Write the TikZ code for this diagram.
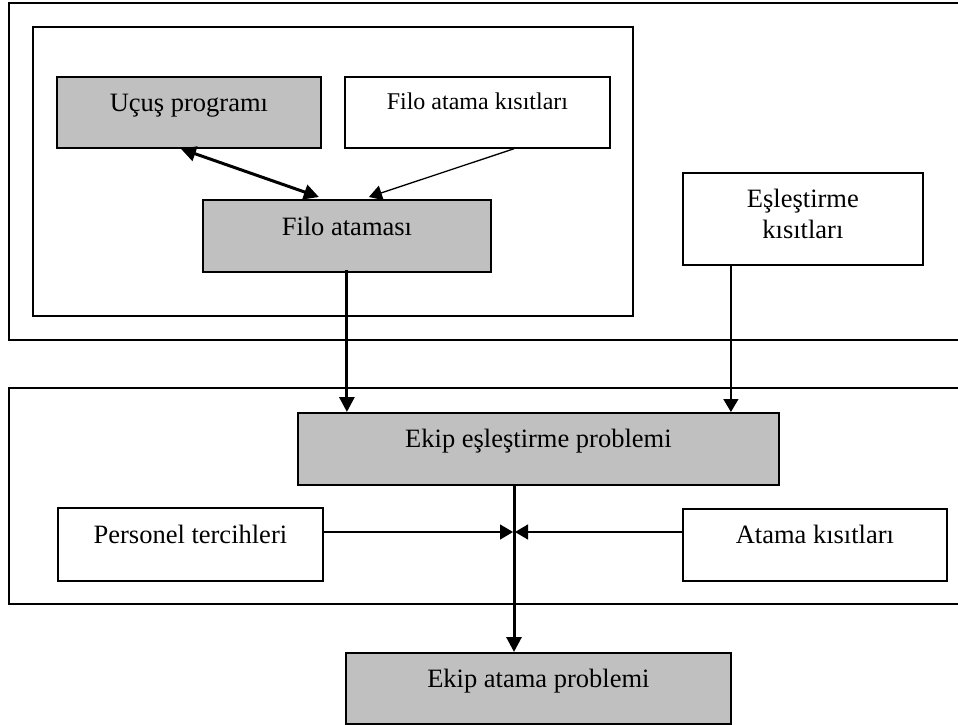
\documentclass[tikz,border=0pt]{standalone}
\usepackage{fontspec}
\setmainfont{Liberation Serif}
\usetikzlibrary{arrows.meta,calc}
\definecolor{boxgray}{HTML}{C0C0C0}
\tikzset{
  frame/.style={draw, line width=1.8pt},
  box/.style={draw, line width=1.8pt, rectangle, anchor=north west,
    inner xsep=0pt, inner ysep=0pt, align=center,
    font=\fontsize{26.5}{30.5}\selectfont},
  graybox/.style={box, fill=boxgray},
  whitebox/.style={box, fill=white},
  thickarrow/.style={line width=3pt, -{Triangle[length=15pt,width=15pt]}},
  thickline/.style={line width=3pt},
  thinarrow/.style={line width=1.3pt, -{Triangle[length=13pt,width=15pt]}},
  bothways/.style={line width=3pt, {Triangle[length=15pt,width=15pt]}-{Triangle[length=15pt,width=15pt]}}
}
\begin{document}
\begin{tikzpicture}[x=1pt, y=-1pt]
\useasboundingbox (0,0) rectangle (958,725);

% frames grouping the two stages
\draw[frame] (9,3) rectangle (964,340);
\draw[frame] (33,27) rectangle (633,316);
\draw[frame] (9,388) rectangle (964,604);

% stage one
\node[graybox, minimum width=264pt, text height=35pt, text depth=36pt] (ucus) at (56,76) {Uçuş programı};
\node[whitebox, minimum width=265pt, text height=33pt, text depth=38pt,
      font=\fontsize{24}{28}\selectfont] (fak) at (344,76) {Filo atama kısıtları};
\node[graybox, minimum width=288pt, text height=36pt, text depth=36pt] (filo) at (202,199) {Filo ataması};
\node[whitebox, minimum width=240pt, text height=35pt, text depth=57pt] (esk) at (682,172)
  {\begin{tabular}[t]{@{}c@{}}Eşleştirme\\kısıtları\end{tabular}};

% stage two
\node[graybox, minimum width=481pt, text height=35pt, text depth=37pt] (ekipes) at (297,412) {Ekip eşleştirme problemi};
\node[whitebox, minimum width=265pt, text height=36pt, text depth=37pt] (pers) at (57,507) {Personel tercihleri};
\node[whitebox, minimum width=264pt, text height=35pt, text depth=37pt] (atama) at (682,508) {Atama kısıtları};
\node[graybox, minimum width=385pt, text height=35pt, text depth=36pt] (ekipat) at (345,652) {Ekip atama problemi};

% meeting point of the side inputs
\coordinate (junc) at (514,532);

% connectors
\draw[bothways] ([xshift=-8pt]ucus.south) -- ([xshift=-28pt,yshift=2pt]filo.north);
\draw[thinarrow] ([xshift=36.5pt]fak.south) -- ([xshift=22pt,yshift=2pt]filo.north);
\draw[thickarrow] ([yshift=3pt]filo.south) -- (filo.south |- ekipes.north);
\draw[thinarrow] ([xshift=-72pt]esk.south) -- ([xshift=-72pt]esk.south |- ekipes.north);
\draw[thickarrow] (junc |- ekipes.south) -- (junc |- ekipat.north);
\draw[thinarrow] (pers.east |- junc) -- ([xshift=-1pt]junc);
\draw[thinarrow] (atama.west |- junc) -- ([xshift=1pt]junc);
\end{tikzpicture}
\end{document}
